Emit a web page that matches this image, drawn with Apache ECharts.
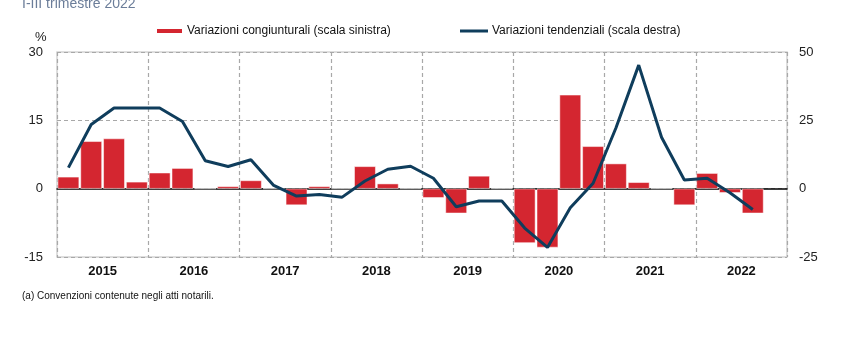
<!DOCTYPE html>
<html><head><meta charset="utf-8">
<script src="https://cdn.jsdelivr.net/npm/echarts@6/dist/echarts.min.js"></script>
<style>html,body{margin:0;padding:0;background:#fff}#c{width:847px;height:356px}</style>
</head><body><div id="c"></div>
<script>
const years = ['2015','2016','2017','2018','2019','2020','2021','2022'];
const quarters = ['I','II','III','IV'];
const quarterCats = [];
years.forEach(y => quarters.forEach(q => quarterCats.push(y + ' ' + q)));
const congiunturali = [2.6,10.4,11.0,1.5, 3.5,4.5,0,0.5, 1.8,0,-3.6,0.5, 0,4.9,1.1,0, -2.0,-5.4,2.8,0, -11.9,-12.9,20.6,9.3, 5.5,1.4,0,-3.6, 3.4,-0.9,-5.4,null];
const tendenziali = [7.7,23.5,29.5,29.5, 29.5,24.6,10.2,8.1, 10.6,1.2,-2.7,-2.1, -3.1,2.8,7.1,8.2, 3.8,-6.6,-4.5,-4.5, -14.4,-21.5,-7.0,2.0, 22.2,45.2,18.8,3.2, 3.8,-1.5,-7.6,null];
const leftTicks = {min:-15, max:30, interval:15};
const rightTicks = {min:-25, max:50, interval:25};
const nameBar = 'Variazioni congiunturali (scala sinistra)';
const nameLine = 'Variazioni tendenziali (scala destra)';

const RED = '#d42630', NAVY = '#0f3d5c';
const font = '"Liberation Sans", Arial, sans-serif';
const chart = echarts.init(document.getElementById('c'));
chart.setOption({
  animation: false,
  textStyle: {fontFamily: font},
  grid: {left: 57, right: 60, top: 52, bottom: 99, show: true, borderColor: '#d4d4d4', borderWidth: 1.5},
  legend: [
    {left: 155, top: 25, padding: 0, itemWidth: 27, itemHeight: 6, itemGap: 4,
     textStyle: {fontFamily: font, fontSize: 12, color: '#111', padding: [0, 0, 0, -1]},
     data: [{name: nameBar, icon: 'rect'}]},
    {left: 460, top: 25, padding: 0, itemWidth: 28, itemHeight: 3, itemGap: 4,
     textStyle: {fontFamily: font, fontSize: 12, color: '#111', padding: [0, 0, 0, -1]},
     data: [{name: nameLine, icon: 'rect', itemStyle: {color: NAVY}}]}
  ],
  graphic: [
    {type: 'text', left: 22, top: -3, style: {text: 'I-III trimestre 2022', font: '14px ' + font, fill: '#6b7d99'}},
    {type: 'text', left: 35, top: 31, style: {text: '%', font: '13px ' + font, fill: '#222'}},
    {type: 'text', left: 22, top: 291, style: {text: '(a) Convenzioni contenute negli atti notarili.', font: '10px ' + font, fill: '#111'}}
  ],
  xAxis: [
    {type: 'category', data: quarterCats, boundaryGap: true,
     axisLine: {show: true, onZero: true, lineStyle: {color: '#000', width: 1.5}},
     axisTick: {show: false}, axisLabel: {show: false}, splitLine: {show: false}},
    {type: 'category', data: years, boundaryGap: true, position: 'bottom',
     axisLine: {show: false, onZero: false}, axisTick: {show: false},
     axisLabel: {show: true, fontWeight: 'bold', fontSize: 13, color: '#111', margin: 8},
     splitLine: {show: true, interval: 0, lineStyle: {color: '#a8a8a8', type: [4, 3], width: 1.2}}}
  ],
  yAxis: [
    {type: 'value', min: leftTicks.min, max: leftTicks.max, interval: leftTicks.interval,
     axisLine: {show: false}, axisTick: {show: false},
     axisLabel: {fontSize: 13, color: '#222', margin: 14},
     splitLine: {show: true, lineStyle: {color: '#a8a8a8', type: [4, 3], width: 1.2}}},
    {type: 'value', min: rightTicks.min, max: rightTicks.max, interval: rightTicks.interval,
     axisLine: {show: false}, axisTick: {show: false},
     axisLabel: {fontSize: 13, color: '#222', margin: 12},
     splitLine: {show: false}}
  ],
  series: [
    {name: nameBar, type: 'bar', xAxisIndex: 0, yAxisIndex: 0, data: congiunturali,
     barCategoryGap: '6%', itemStyle: {color: RED, borderColor: '#fff', borderWidth: 0.5}, z: 2},
    {name: nameLine, type: 'line', xAxisIndex: 0, yAxisIndex: 1, data: tendenziali,
     showSymbol: false, symbol: 'none', lineStyle: {color: NAVY, width: 3}, itemStyle: {color: NAVY}, z: 3}
  ]
});
</script></body></html>
